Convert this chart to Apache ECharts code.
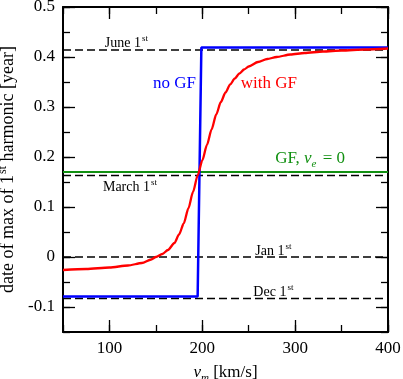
<!DOCTYPE html>
<html>
<head>
<meta charset="utf-8">
<script src="https://cdn.jsdelivr.net/npm/echarts@6/dist/echarts.min.js"></script>
<style>html,body{margin:0;padding:0;background:#fff}#c{width:403px;height:379px}</style>
</head>
<body>
<div id="c"></div>
<script>
// ---- data ----
const xRange = [50, 400];
const yRange = [-0.15, 0.5];
const xTickLabels = [100, 200, 300, 400];
const yTickLabels = [-0.1, 0, 0.1, 0.2, 0.3, 0.4, 0.5];

const withGF_x = [50, 75, 100, 120, 135, 145, 150, 157, 163, 170, 175, 180, 185, 190, 195, 200, 205, 210, 215, 220, 225, 230, 235, 240, 245, 250, 260, 270, 280, 295, 310, 330, 350, 375, 400];
const withGF_y = [-0.026, -0.024, -0.021, -0.017, -0.012, -0.005, 0.0, 0.006, 0.014, 0.028, 0.045, 0.067, 0.097, 0.13, 0.163, 0.193, 0.224, 0.255, 0.285, 0.31, 0.329, 0.345, 0.357, 0.367, 0.375, 0.381, 0.39, 0.396, 0.4, 0.405, 0.408, 0.411, 0.413, 0.415, 0.417];

const noGF_x = [50, 195, 199, 400];
const noGF_y = [-0.079, -0.079, 0.419, 0.419];

const gfVe0_x = [50, 400];
const gfVe0_y = [0.17, 0.17];

const dateNames = ['June 1', 'March 1', 'Jan 1', 'Dec 1'];
const dateValues = [0.414, 0.163, 0.0, -0.083];

// annotation anchor positions (data coordinates, left-middle of text)
const annotations = [
  {text: 'June 1{sup|st}', at: [95, 0.428], color: '#000', size: 14},
  {text: 'March 1{sup|st}', at: [93, 0.139], color: '#000', size: 14},
  {text: 'Jan 1{sup|st}', at: [257, 0.012], color: '#000', size: 14},
  {text: 'Dec 1{sup|st}', at: [255, -0.07], color: '#000', size: 14},
  {text: 'no GF', at: [147, 0.346], color: '#0000ff', size: 17},
  {text: 'with GF', at: [241.5, 0.346], color: '#ff0000', size: 17},
  {text: 'GF, {it|v}{sub|e} = 0', at: [278.5, 0.197], color: '#119011', size: 17}
];

const FONT = '"Liberation Serif", "DejaVu Serif", serif';

function pairs(xs, ys) { return xs.map((x, i) => [x, ys[i]]); }

const chart = echarts.init(document.getElementById('c'), null, {renderer: 'canvas'});

const grid = {left: 63, right: 15, top: 7, bottom: 47, containLabel: false, outerBoundsMode: 'none'};

const lineOn = {show: true, onZero: false, lineStyle: {color: '#000', width: 2}};
const lineOff = {show: false, onZero: false};

function xAx(opts) {
  return Object.assign({
    type: 'value', min: xRange[0], max: xRange[1], interval: 50,
    splitLine: {show: false}, axisLine: lineOn
  }, opts);
}
function yAx(opts) {
  return Object.assign({
    type: 'value', min: yRange[0], max: yRange[1], interval: 0.05,
    splitLine: {show: false}, axisLine: lineOn
  }, opts);
}

const minorTick = {show: true, inside: true, length: 7, lineStyle: {color: '#000', width: 1.3}};
const majorTickX = {show: true, inside: true, length: 12, customValues: xTickLabels, lineStyle: {color: '#000', width: 1.3}};
const majorTickY = {show: true, inside: true, length: 12, customValues: yTickLabels, lineStyle: {color: '#000', width: 1.3}};

const option = {
  animation: false,
  backgroundColor: '#fff',
  grid: grid,
  xAxis: [
    xAx({position: 'bottom', axisTick: minorTick,
      axisLabel: {show: true, customValues: xTickLabels, color: '#000', fontFamily: FONT, fontSize: 17, margin: 8,
        formatter: v => String(v)},
      name: '{it|v}{sub|m} [km/s]', nameLocation: 'middle', nameGap: 29,
      nameTextStyle: {color: '#000', fontFamily: FONT, fontSize: 17,
        rich: {
          it: {fontFamily: FONT, fontStyle: 'italic', fontSize: 17, color: '#000'},
          sub: {fontFamily: FONT, fontStyle: 'italic', fontSize: 11, color: '#000', padding: [12, 0, 0, 0]}
        }}
    }),
    xAx({position: 'bottom', axisTick: majorTickX, axisLabel: {show: false}, axisLine: lineOff}),
    xAx({position: 'top', axisTick: minorTick, axisLabel: {show: false}}),
    xAx({position: 'top', axisTick: majorTickX, axisLabel: {show: false}, axisLine: lineOff})
  ],
  yAxis: [
    yAx({position: 'left', axisTick: minorTick,
      axisLabel: {show: true, customValues: yTickLabels, color: '#000', fontFamily: FONT, fontSize: 17, margin: 8,
        formatter: v => (Math.abs(v) < 1e-9 ? '0' : String(Math.round(v * 10) / 10))},
      name: 'date of max of 1{sup|st} harmonic [year]', nameLocation: 'middle', nameGap: 37, nameRotate: 90,
      nameTextStyle: {color: '#000', fontFamily: FONT, fontSize: 18,
        rich: {
          sup: {fontFamily: FONT, fontSize: 12, color: '#000', padding: [0, 0, 11, 1]}
        }}
    }),
    yAx({position: 'left', axisTick: majorTickY, axisLabel: {show: false}, axisLine: lineOff}),
    yAx({position: 'right', axisTick: minorTick, axisLabel: {show: false}}),
    yAx({position: 'right', axisTick: majorTickY, axisLabel: {show: false}, axisLine: lineOff})
  ],
  series: [
    ...dateValues.map((v, i) => ({
      name: dateNames[i], type: 'line', data: pairs(xRange, [v, v]), symbol: 'none', silent: true,
      lineStyle: {color: '#000', width: 1.3, type: [8, 4]}, z: 1
    })),
    {name: 'GF, ve = 0', type: 'line', data: pairs(gfVe0_x, gfVe0_y), symbol: 'none',
      lineStyle: {color: '#119011', width: 2.2}, z: 2},
    {name: 'no GF', type: 'line', data: pairs(noGF_x, noGF_y), symbol: 'none',
      lineStyle: {color: '#0000ff', width: 2.5}, z: 3},
    {name: 'with GF', type: 'line', data: pairs(withGF_x, withGF_y), symbol: 'none', smooth: 0.25, smoothMonotone: 'x',
      lineStyle: {color: '#ff0000', width: 2.3}, z: 4}
  ]
};

chart.setOption(option);

const graphics = annotations.map(a => {
  const p = chart.convertToPixel({xAxisIndex: 0, yAxisIndex: 0}, a.at);
  return {
    type: 'text', x: p[0], y: p[1], z: 100,
    style: {
      text: a.text, fill: a.color, font: a.size + 'px ' + FONT,
      fontFamily: FONT, fontSize: a.size,
      align: 'left', verticalAlign: 'middle',
      rich: {
        sup: {fontFamily: FONT, fontSize: Math.round(a.size * 0.65), fill: a.color, padding: [0, 0, 9, 1]},
        it: {fontFamily: FONT, fontStyle: 'italic', fontSize: a.size, fill: a.color},
        sub: {fontFamily: FONT, fontStyle: 'italic', fontSize: Math.round(a.size * 0.65), fill: a.color, padding: [12, 2, 0, 0]}
      }
    }
  };
});
chart.setOption({graphic: graphics});
</script>
</body>
</html>
